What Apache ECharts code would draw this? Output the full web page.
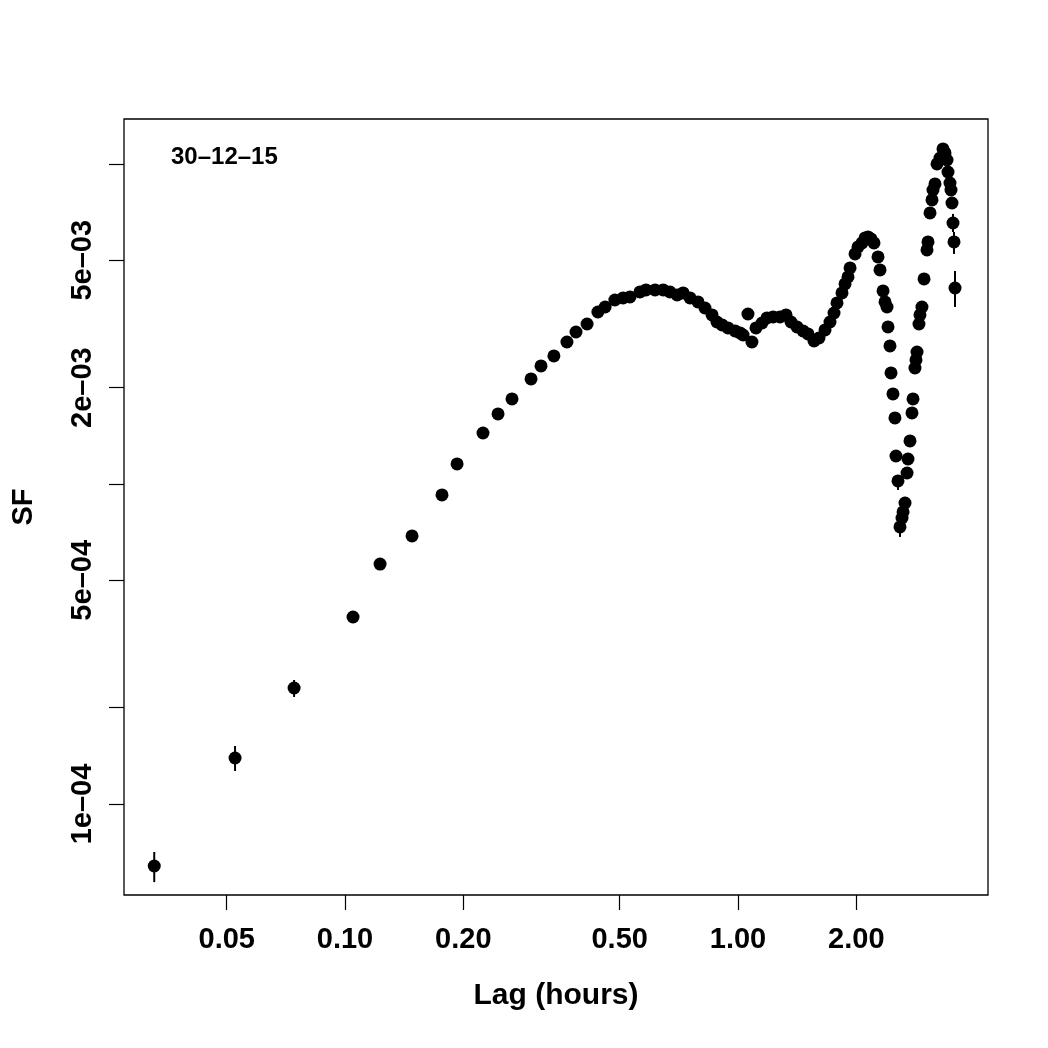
<!DOCTYPE html>
<html>
<head>
<meta charset="utf-8">
<script src="https://cdn.jsdelivr.net/npm/echarts@6/dist/echarts.min.js"></script>
<style>
  html, body { margin: 0; padding: 0; background: #fff; }
  #chart { width: 1048px; height: 1048px; }
</style>
</head>
<body>
<div id="chart"></div>
<script>
// structure function, lag in hours
const lag = [
  0.0327, 0.0525, 0.0742, 0.1048, 0.1228, 0.1481, 0.1765, 0.1928, 0.2244, 0.2451,
  0.266, 0.2974, 0.3153, 0.340, 0.367, 0.387, 0.413, 0.440, 0.459, 0.486,
  0.510, 0.531, 0.563, 0.583, 0.615, 0.645, 0.671, 0.700, 0.725, 0.755,
  0.791, 0.824, 0.859, 0.884, 0.911, 0.943, 0.983, 1.012, 1.030, 1.060,
  1.085, 1.111, 1.151, 1.185, 1.228, 1.279, 1.325, 1.364, 1.413, 1.464,
  1.507, 1.561, 1.607, 1.665, 1.714, 1.755, 1.786, 1.839, 1.872, 1.905,
  1.928, 1.985, 2.020, 2.068, 2.105, 2.142, 2.180, 2.218, 2.271, 2.298,
  2.339, 2.366, 2.394, 2.408, 2.436, 2.451, 2.479, 2.508, 2.523, 2.553,
  2.583, 2.614, 2.630, 2.660, 2.692, 2.707, 2.739, 2.771, 2.788, 2.820,
  2.837, 2.854, 2.887, 2.904, 2.938, 2.974, 3.026, 3.044, 3.080, 3.116,
  3.134, 3.171, 3.209, 3.266, 3.323, 3.363, 3.402, 3.422, 3.462, 3.483,
  3.503, 3.524, 3.545, 3.566
];
const sf = [
  6.40e-5, 1.392e-4, 2.304e-4, 3.84e-4, 5.62e-4, 6.88e-4, 9.24e-4, 1.155e-3, 1.443e-3, 1.655e-3,
  1.844e-3, 2.129e-3, 2.338e-3, 2.512e-3, 2.778e-3, 2.985e-3, 3.162e-3, 3.447e-3, 3.573e-3, 3.758e-3,
  3.813e-3, 3.841e-3, 3.981e-3, 4.039e-3, 4.039e-3, 4.039e-3, 3.981e-3, 3.896e-3, 3.953e-3, 3.813e-3,
  3.705e-3, 3.548e-3, 3.374e-3, 3.208e-3, 3.140e-3, 3.073e-3, 3.007e-3, 2.964e-3, 2.921e-3, 3.397e-3,
  2.778e-3, 3.073e-3, 3.185e-3, 3.302e-3, 3.326e-3, 3.326e-3, 3.374e-3, 3.208e-3, 3.095e-3, 3.007e-3,
  2.943e-3, 2.798e-3, 2.859e-3, 3.029e-3, 3.208e-3, 3.422e-3, 3.679e-3, 3.953e-3, 4.217e-3, 4.436e-3,
  4.732e-3, 5.234e-3, 5.504e-3, 5.664e-3, 5.872e-3, 5.914e-3, 5.830e-3, 5.664e-3, 5.122e-3, 4.665e-3,
  4.010e-3, 3.705e-3, 3.573e-3, 3.095e-3, 2.700e-3, 2.223e-3, 1.911e-3, 1.608e-3, 1.223e-3, 1.022e-3,
  7.34e-4, 7.83e-4, 8.18e-4, 8.72e-4, 1.082e-3, 1.197e-3, 1.363e-3, 1.667e-3, 1.844e-3, 2.304e-3,
  2.441e-3, 2.585e-3, 3.162e-3, 3.374e-3, 3.573e-3, 4.372e-3, 5.386e-3, 5.705e-3, 7.03e-3, 7.72e-3,
  8.29e-3, 8.66e-3, 1.0e-2, 1.044e-2, 1.114e-2, 1.083e-2, 1.029e-2, 9.44e-3, 8.72e-3, 8.29e-3,
  7.55e-3, 6.54e-3, 5.705e-3, 4.097e-3
];

// error bars (only where they stick out of the dot)
const errLag = [0.0327, 0.0525, 0.0742, 2.553, 2.583, 2.660, 3.524, 3.545, 3.566];
const errLow = [5.70e-5, 1.268e-4, 2.16e-4, 9.58e-4, 6.83e-4, 8.29e-4, 6.13e-3, 5.234e-3, 3.573e-3];
const errHigh = [7.08e-5, 1.518e-4, 2.44e-4, 1.067e-3, 7.9e-4, 9.11e-4, 6.98e-3, 6.13e-3, 4.631e-3];

const xTicks = [0.05, 0.1, 0.2, 0.5, 1, 2];
const yTicks = [1e-4, 2e-4, 5e-4, 1e-3, 2e-3, 5e-3, 1e-2];
const yLabels = [1e-4, 5e-4, 2e-3, 5e-3];
const xRange = [0.02739, 4.326];
const yRange = [5.195e-5, 1.382e-2];

const lg = Math.log10;
const FONT = 'Liberation Sans';

// 5e-03 style labels
const fmtSci = (v) => {
  const val = Math.pow(10, v);
  const exp = Math.floor(lg(val) + 1e-9);
  const man = Math.round(val / Math.pow(10, exp));
  return man + 'e\u2013' + String(-exp).padStart(2, '0');
};

const chart = echarts.init(document.getElementById('chart'));

const option = {
  animation: false,
  backgroundColor: '#fff',
  title: {
    text: '30\u201312\u201315',
    left: 166,
    top: 140,
    textStyle: { fontFamily: FONT, fontWeight: 'bold', fontSize: 24, color: '#000' }
  },
  grid: {
    left: 124, top: 119, right: 60, bottom: 153,
    show: true, borderColor: '#000', borderWidth: 1.3,
    containLabel: false, outerBoundsMode: 'none'
  },
  xAxis: {
    type: 'value',
    min: lg(xRange[0]),
    max: lg(xRange[1]),
    name: 'Lag (hours)',
    nameLocation: 'middle',
    nameGap: 86,
    nameTextStyle: { fontFamily: FONT, fontWeight: 'bold', fontSize: 30, color: '#000' },
    axisLine: { show: false, onZero: false },
    splitLine: { show: false },
    axisTick: {
      show: true, length: 15, customValues: xTicks.map(lg),
      lineStyle: { color: '#000', width: 1.2 }
    },
    axisLabel: {
      customValues: xTicks.map(lg),
      margin: 30,
      fontFamily: FONT, fontWeight: 'bold', fontSize: 29, color: '#000',
      formatter: (v) => Math.pow(10, v).toFixed(2)
    }
  },
  yAxis: {
    type: 'value',
    min: lg(yRange[0]),
    max: lg(yRange[1]),
    name: 'SF',
    nameLocation: 'middle',
    nameGap: 86,
    nameTextStyle: { fontFamily: FONT, fontWeight: 'bold', fontSize: 29, color: '#000' },
    axisLine: { show: false, onZero: false },
    splitLine: { show: false },
    axisTick: {
      show: true, length: 15, customValues: yTicks.map(lg),
      lineStyle: { color: '#000', width: 1.2 }
    },
    axisLabel: {
      customValues: yLabels.map(lg),
      rotate: 90,
      margin: 27,
      fontFamily: FONT, fontWeight: 'bold', fontSize: 29, color: '#000',
      formatter: fmtSci
    }
  },
  series: [
    {
      type: 'custom',
      z: 1,
      renderItem: (params, api) => {
        const x = api.value(0);
        const p1 = api.coord([x, api.value(1)]);
        const p2 = api.coord([x, api.value(2)]);
        return {
          type: 'line',
          shape: { x1: p1[0], y1: p1[1], x2: p2[0], y2: p2[1] },
          style: { stroke: '#000', lineWidth: 2 }
        };
      },
      encode: { x: 0, y: [1, 2] },
      data: errLag.map((x, i) => [lg(x), lg(errLow[i]), lg(errHigh[i])])
    },
    {
      type: 'scatter',
      z: 2,
      symbol: 'circle',
      symbolSize: 13,
      itemStyle: { color: '#000', opacity: 1 },
      data: lag.map((x, i) => [lg(x), lg(sf[i])])
    }
  ]
};

chart.setOption(option);
</script>
</body>
</html>
